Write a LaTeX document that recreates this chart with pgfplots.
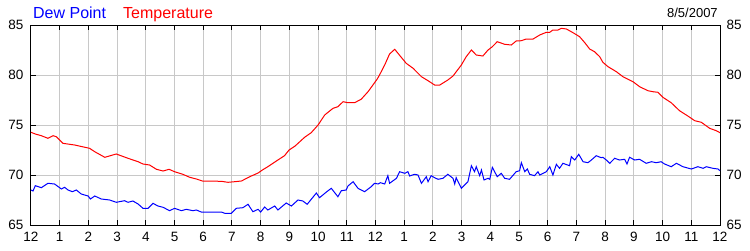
\documentclass[border=0pt]{standalone}
\usepackage{fontspec}
\setmainfont{Liberation Sans}
\usepackage{pgfplots}
\pgfplotsset{compat=1.18}
\definecolor{dewblue}{RGB}{0,0,255}
\definecolor{tempred}{RGB}{255,0,0}
\definecolor{gridgray}{RGB}{200,200,200}
\begin{document}
\begin{tikzpicture}
\useasboundingbox (-31pt,-25pt) rectangle (719pt,225pt);
\begin{axis}[
  scale only axis, width=689pt, height=200pt,
  at={(0pt,0pt)}, anchor=south west,
  xmin=0, xmax=24, ymin=65, ymax=85,
  xtick={0,...,24},
  xticklabels={12,1,2,3,4,5,6,7,8,9,10,11,12,1,2,3,4,5,6,7,8,9,10,11,12},
  ytick={65,70,75,80,85},
  grid=major, major grid style={gridgray, line width=1pt},
  axis line style={black, line width=1pt},
  tick style={black, line width=1pt}, major tick length=5pt,
  tick align=inside, xtick pos=both, ytick pos=both,
  yticklabel pos=left,
  /pgf/number format/assume math mode=true,
  tick label style={font=\fontsize{13.5}{15}\selectfont, inner sep=0pt, text=black},
  xticklabel shift=7pt, yticklabel shift=7.5pt,
  clip=false,
]
\addplot[dewblue, line width=1pt] coordinates {
(0,68.5)(0.07,68.4)(0.15,68.93)(0.36,68.73)(0.59,69.17)(0.82,69.1)(1.06,68.6)(1.17,68.77)(1.29,68.5)(1.44,68.33)(1.58,68.5)(1.75,68.1)(1.99,67.9)(2.07,67.6)(2.22,67.9)(2.45,67.6)(2.74,67.5)(2.97,67.27)(3.26,67.43)(3.38,67.27)(3.55,67.4)(3.73,67.1)(3.9,66.67)(4.08,66.67)(4.25,67.17)(4.42,66.9)(4.6,66.77)(4.83,66.43)(5.0,66.67)(5.24,66.43)(5.41,66.57)(5.64,66.43)(5.76,66.5)(5.93,66.3)(6.63,66.3)(6.75,66.17)(6.98,66.17)(7.15,66.67)(7.38,66.73)(7.56,67.07)(7.73,66.33)(7.91,66.57)(8.0,66.3)(8.14,66.8)(8.25,66.5)(8.49,66.9)(8.6,66.5)(8.89,67.2)(9.07,66.9)(9.3,67.5)(9.47,67.4)(9.62,67.07)(9.94,68.2)(10.05,67.73)(10.29,68.3)(10.46,68.67)(10.69,67.83)(10.81,68.43)(10.98,68.5)(11.04,68.9)(11.22,69.33)(11.39,68.67)(11.62,68.33)(11.85,68.83)(11.97,69.17)(12.09,69.1)(12.17,69.23)(12.32,69.1)(12.43,69.93)(12.49,69.17)(12.73,69.67)(12.84,70.33)(13.02,70.17)(13.13,70.33)(13.19,69.9)(13.36,70.07)(13.48,70.0)(13.6,69.17)(13.77,69.83)(13.83,69.33)(13.94,69.93)(14.06,69.73)(14.18,69.57)(14.35,69.67)(14.52,70.07)(14.7,69.67)(14.76,69.1)(14.81,69.73)(14.99,68.67)(15.22,69.33)(15.34,70.93)(15.45,70.33)(15.51,70.83)(15.63,69.93)(15.69,70.5)(15.78,69.5)(15.92,69.67)(15.98,69.57)(16.07,70.77)(16.24,69.83)(16.38,70.17)(16.5,69.67)(16.67,69.57)(16.9,70.33)(17.02,70.43)(17.08,71.23)(17.2,70.33)(17.29,70.6)(17.37,70.07)(17.54,69.93)(17.66,70.33)(17.72,70.0)(17.95,70.33)(18.07,70.83)(18.18,70.0)(18.3,71.07)(18.41,70.67)(18.53,71.17)(18.76,70.93)(18.82,71.83)(18.94,71.5)(19.08,72.07)(19.23,71.33)(19.4,71.23)(19.52,71.5)(19.69,71.93)(19.86,71.73)(19.92,71.77)(20.04,71.5)(20.16,71.17)(20.33,71.67)(20.5,71.5)(20.68,71.57)(20.76,71.1)(20.85,71.77)(21.03,71.5)(21.2,71.57)(21.43,71.17)(21.61,71.33)(21.78,71.23)(21.95,71.33)(22.07,71.1)(22.3,70.83)(22.48,71.17)(22.71,70.83)(23.0,70.6)(23.23,70.83)(23.41,70.67)(23.52,70.83)(23.75,70.67)(23.93,70.6)(24.0,70.43)
};
\addplot[tempred, line width=1pt] coordinates {
(0,74.27)(0.15,74.1)(0.36,73.93)(0.59,73.67)(0.77,73.93)(0.88,73.83)(1.11,73.17)(1.52,73.0)(2.04,72.67)(2.22,72.33)(2.57,71.77)(2.97,72.1)(3.38,71.67)(3.73,71.33)(3.9,71.1)(4.13,71.0)(4.37,70.57)(4.6,70.4)(4.81,70.57)(5.0,70.33)(5.29,70.07)(5.53,69.77)(5.76,69.6)(5.97,69.4)(6.63,69.37)(6.86,69.27)(7.09,69.33)(7.33,69.4)(7.62,69.83)(7.91,70.2)(8.06,70.5)(8.25,70.83)(8.6,71.5)(8.83,71.93)(8.99,72.5)(9.2,72.9)(9.53,73.77)(9.76,74.23)(10.0,75.0)(10.23,76.0)(10.52,76.67)(10.69,76.83)(10.87,77.33)(11.04,77.23)(11.27,77.23)(11.5,77.57)(11.74,78.33)(11.91,79.0)(12.06,79.6)(12.14,80.0)(12.32,81.0)(12.49,82.1)(12.67,82.57)(12.84,81.97)(13.07,81.17)(13.31,80.67)(13.6,79.83)(13.83,79.43)(14.06,79.0)(14.24,79.0)(14.52,79.5)(14.7,79.9)(14.99,81.0)(15.16,81.83)(15.34,82.5)(15.51,82.0)(15.74,81.9)(15.92,82.5)(16.07,82.83)(16.24,83.33)(16.5,83.07)(16.73,83.0)(16.9,83.4)(17.08,83.43)(17.25,83.6)(17.49,83.6)(17.72,84.0)(17.95,84.27)(18.07,84.27)(18.18,84.5)(18.36,84.5)(18.47,84.67)(18.65,84.6)(18.88,84.23)(19.11,83.83)(19.29,83.23)(19.46,82.6)(19.63,82.33)(19.81,81.83)(19.92,81.27)(20.1,80.83)(20.39,80.33)(20.62,79.83)(20.97,79.33)(21.2,78.83)(21.49,78.43)(21.66,78.33)(21.84,78.27)(22.01,77.77)(22.3,77.23)(22.59,76.43)(22.88,75.9)(23.12,75.43)(23.35,75.27)(23.64,74.67)(23.87,74.43)(24.0,74.23)
};
\node[anchor=base west, inner sep=0pt, text=dewblue, font=\fontsize{16}{18}\selectfont] at (axis description cs:0.0029,1.035) {Dew Point};
\node[anchor=base west, inner sep=0pt, text=tempred, font=\fontsize{16}{18}\selectfont] at (axis description cs:0.1335,1.035) {Temperature};
\node[anchor=base east, inner sep=0pt, text=black, font=\fontsize{13}{15}\selectfont] at (axis description cs:0.997,1.0375) {8/5/2007};
\end{axis}
\begin{axis}[
  scale only axis, width=689pt, height=200pt,
  at={(0pt,0pt)}, anchor=south west,
  xmin=0, xmax=24, ymin=65, ymax=85,
  xtick=\empty, ytick={65,70,75,80,85},
  axis line style={draw=none},
  major tick length=0pt, tick style={draw=none},
  yticklabel pos=right,
  /pgf/number format/assume math mode=true,
  tick label style={font=\fontsize{13.5}{15}\selectfont, inner sep=0pt, text=black},
  yticklabel shift=6.5pt,
]
\end{axis}
\end{tikzpicture}
\end{document}
